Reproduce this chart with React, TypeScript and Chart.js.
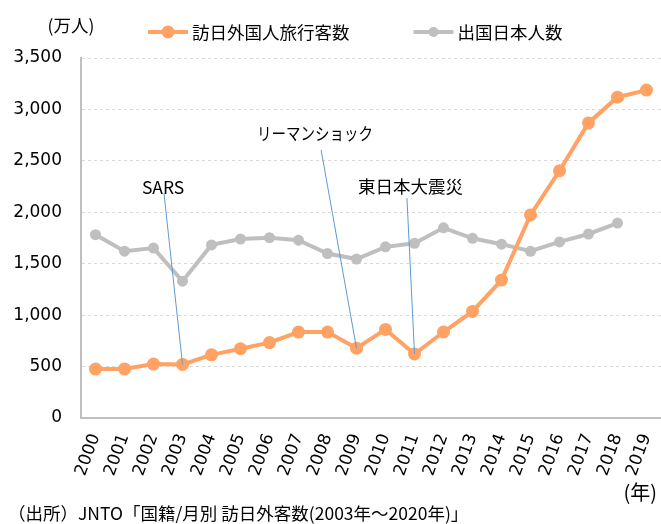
import React, { useEffect, useRef } from 'react';
import { Chart, registerables } from 'chart.js';

Chart.register(...registerables);

// ---- data ----
const years = ['2000', '2001', '2002', '2003', '2004', '2005', '2006', '2007', '2008', '2009', '2010', '2011', '2012', '2013', '2014', '2015', '2016', '2017', '2018', '2019'];
const visitors = [476, 477, 524, 521, 614, 673, 733, 835, 835, 679, 861, 622, 836, 1036, 1341, 1974, 2404, 2869, 3119, 3188];
const outbound = [1782, 1622, 1652, 1330, 1683, 1740, 1753, 1729, 1599, 1545, 1664, 1699, 1849, 1747, 1690, 1621, 1712, 1789, 1895, null];
const seriesNames = ['訪日外国人旅行客数', '出国日本人数'];
const yTicks = [0, 500, 1000, 1500, 2000, 2500, 3000, 3500];

// annotations (event labels), anchored in data coordinates
const annLabels = ['SARS', 'リーマンショック', '東日本大震災'];
const annYears = ['2003', '2009', '2011'];
const annTextIdx = [2.33, 7.57, 10.86];
const annTextVal = [2246, 2771, 2256];
const annLineIdx = [2.36, 7.78, 10.74];
const annLineVal = [2187, 2606, 2139];

const unitLabel = '(万人)';
const xUnitLabel = '(年)';
const sourceText = '（出所）JNTO「国籍/月別 訪日外客数(2003年～2020年)」';

const ORANGE = '#ffa264';
const GRAY = '#bfbfbf';
const CJK = '"Noto Sans CJK JP", "Noto Sans", sans-serif';
const NUM = '"DejaVu Sans", Verdana, sans-serif';

const overlayPlugin = {
  id: 'overlay',
  afterDatasetsDraw(chart: any) {
    const ctx = chart.ctx as CanvasRenderingContext2D;
    const xs = chart.scales.x;
    const ys = chart.scales.y;
    ctx.save();
    // annotation lines
    ctx.strokeStyle = '#5b9bd5';
    ctx.lineWidth = 1;
    annLabels.forEach((_, i) => {
      const idx = years.indexOf(annYears[i]);
      const x1 = xs.getPixelForValue(annLineIdx[i]);
      const y1 = ys.getPixelForValue(annLineVal[i]);
      const x2 = xs.getPixelForValue(idx);
      const y2 = ys.getPixelForValue(visitors[idx]);
      ctx.beginPath();
      ctx.moveTo(x1, y1);
      ctx.lineTo(x2, y2);
      ctx.stroke();
    });
    // annotation texts
    ctx.fillStyle = '#000';
    ctx.textBaseline = 'middle';
    ctx.textAlign = 'center';
    ctx.font = `17.5px ${CJK}`;
    annLabels.forEach((lab, i) => {
      const x = xs.getPixelForValue(annTextIdx[i]);
      const y = ys.getPixelForValue(annTextVal[i]);
      const w = ctx.measureText(lab).width;
      if (i === 1) ctx.fillText(lab, x, y, Math.min(w, 116));
      else ctx.fillText(lab, x, y);
    });
    ctx.restore();
  },
  afterDraw(chart: any) {
    const ctx = chart.ctx as CanvasRenderingContext2D;
    ctx.save();
    ctx.fillStyle = '#000';
    ctx.textBaseline = 'middle';
    // unit label
    ctx.font = `17.5px ${CJK}`;
    ctx.textAlign = 'center';
    ctx.fillText(unitLabel, 71, 25);
    // legend
    ctx.textAlign = 'left';
    let x = 148;
    const y = 32;
    chart.data.datasets.forEach((ds: any, i: number) => {
      ctx.strokeStyle = ds.borderColor;
      ctx.lineWidth = 4;
      ctx.beginPath();
      ctx.moveTo(x, y);
      ctx.lineTo(x + 40, y);
      ctx.stroke();
      ctx.fillStyle = ds.borderColor;
      ctx.beginPath();
      ctx.arc(x + 20, y, i === 0 ? 6.5 : 5, 0, Math.PI * 2);
      ctx.fill();
      ctx.fillStyle = '#000';
      const tx = x + 44;
      ctx.fillText(ds.label, tx, y);
      x = tx + ctx.measureText(ds.label).width + 64;
    });
    // x unit
    ctx.font = `20px ${CJK}`;
    ctx.textAlign = 'right';
    ctx.fillText(xUnitLabel, 657, 492);
    // source
    ctx.font = `17.5px ${CJK}`;
    ctx.textAlign = 'left';
    const sw = ctx.measureText(sourceText).width;
    ctx.fillText(sourceText, 8, 513, Math.min(sw, 492));
    ctx.restore();
  },
};

export default function App() {
  const ref = useRef<HTMLCanvasElement>(null);
  useEffect(() => {
    document.body.style.margin = '0';
    const canvas = ref.current!;
    const chart = new Chart(canvas, {
      type: 'line',
      data: {
        labels: years,
        datasets: [
          {
            label: seriesNames[0],
            data: visitors,
            borderColor: ORANGE,
            backgroundColor: ORANGE,
            pointBackgroundColor: ORANGE,
            pointBorderWidth: 0,
            pointRadius: 6.5,
            borderWidth: 4,
            tension: 0,
          },
          {
            label: seriesNames[1],
            data: outbound,
            borderColor: GRAY,
            backgroundColor: GRAY,
            pointBackgroundColor: GRAY,
            pointBorderWidth: 0,
            pointRadius: 5.5,
            borderWidth: 4,
            tension: 0,
          },
        ],
      },
      options: {
        responsive: false,
        animation: false,
        events: [],
        layout: { autoPadding: false, padding: { top: 58, left: 0, right: 0, bottom: 0 } },
        plugins: { legend: { display: false }, tooltip: { enabled: false } },
        scales: {
          x: {
            type: 'category',
            offset: true,
            grid: { display: false, drawTicks: false },
            border: { display: true, color: GRAY, width: 2 },
            ticks: {
              autoSkip: false,
              maxRotation: 70,
              minRotation: 70,
              padding: 13,
              color: '#000',
              font: { family: NUM, size: 17 },
            },
            afterFit: (s: any) => {
              s.height = 106;
              s.paddingRight = 0;
              s.paddingLeft = 0;
            },
          },
          y: {
            min: 0,
            max: 3500,
            afterBuildTicks: (s: any) => {
              s.ticks = yTicks.map((v) => ({ value: v }));
            },
            grid: {
              drawTicks: false,
              color: (c: any) => (c.tick && c.tick.value === 0 ? 'rgba(0,0,0,0)' : '#d9d9d9'),
              lineWidth: 1,
            },
            border: { display: true, color: GRAY, width: 2, dash: [3, 3] },
            ticks: {
              padding: 19,
              color: '#000',
              font: { family: NUM, size: 17 },
              callback: (v: any) => Number(v).toLocaleString('en-US'),
            },
            afterFit: (s: any) => {
              s.width = 81;
            },
          },
        },
      },
      plugins: [overlayPlugin],
    } as any);
    return () => chart.destroy();
  }, []);
  return <canvas ref={ref} width={661} height={524} style={{ display: 'block' }} />;
}
